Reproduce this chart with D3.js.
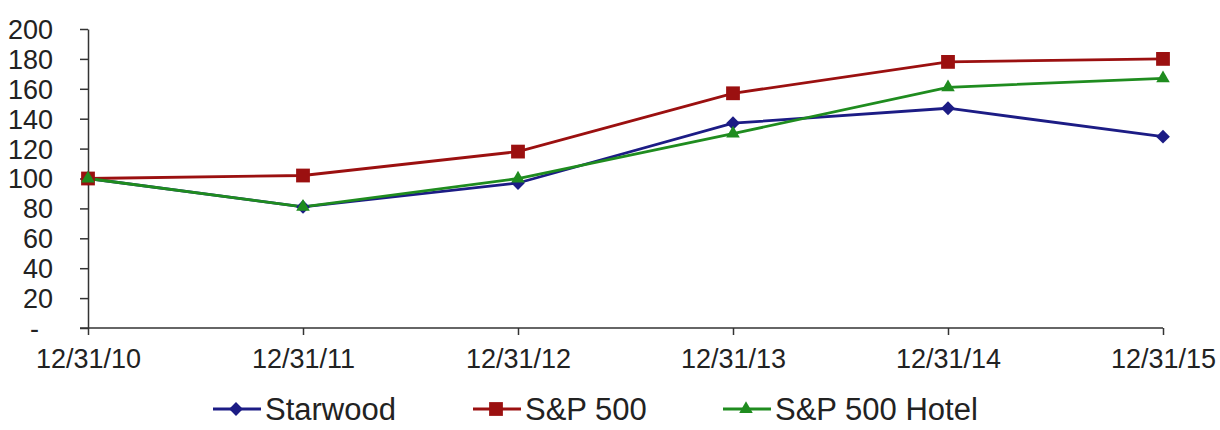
<!DOCTYPE html>
<html>
<head>
<script src="https://d3js.org/d3.v7.min.js"></script>
<style>
  body { margin: 0; background: #fff; }
  text { font-family: "Liberation Sans", Arial, sans-serif; fill: #222; }
</style>
</head>
<body>
<svg id="chart" width="1220" height="430"></svg>
<script>
// data
var dates = ["12/31/10", "12/31/11", "12/31/12", "12/31/13", "12/31/14", "12/31/15"];
var starwood = [100, 81, 97, 137, 147, 128];
var sp500 = [100, 102, 118, 157, 178, 180];
var spHotel = [100, 81, 100, 130, 161, 167];
var yTicks = [0, 20, 40, 60, 80, 100, 120, 140, 160, 180, 200];

var series = [
  {name: "Starwood", values: starwood, color: "#1c1c85", marker: "diamond"},
  {name: "S&P 500", values: sp500, color: "#9b1010", marker: "square"},
  {name: "S&P 500 Hotel", values: spHotel, color: "#1f8c1f", marker: "triangle"}
];

var svg = d3.select("#chart");

var x = d3.scalePoint().domain(dates).range([88, 1163]).padding(0);
var y = d3.scaleLinear().domain([0, 200]).range([328, 29]);

// y axis
var yAxis = svg.append("g")
  .attr("transform", "translate(88,0)")
  .call(d3.axisLeft(y).tickValues(yTicks).tickSize(8).tickPadding(27).tickSizeOuter(0)
    .tickFormat(function(d){ return d === 0 ? "-" : d; }));
yAxis.selectAll("text").style("font-size", "27px").attr("dy", "0.35em")
  .attr("dx", function(d){ return d === 0 ? -14 : 0; });
yAxis.selectAll("line, path").attr("stroke", "#333").attr("stroke-width", 1.5);

// x axis
var xAxis = svg.append("g")
  .attr("transform", "translate(0,328)")
  .call(d3.axisBottom(x).tickSize(7).tickPadding(14).tickSizeOuter(0));
xAxis.select(".domain").attr("d", "M80,0H1163");
xAxis.selectAll("text").style("font-size", "27px");
xAxis.selectAll("line, path").attr("stroke", "#333").attr("stroke-width", 1.5);

var line = d3.line()
  .x(function(d, i){ return x(dates[i]); })
  .y(function(d){ return y(d); });

var symbols = {
  diamond: d3.symbol().type(d3.symbolSquare).size(95),
  square: d3.symbol().type(d3.symbolSquare).size(190),
  triangle: d3.symbol().type(d3.symbolTriangle).size(80)
};
function markerTransform(s, px, py) {
  return "translate(" + px + "," + py + ")" + (s.marker === "diamond" ? " rotate(45)" : "");
}

series.forEach(function(s){
  svg.append("path")
    .attr("d", line(s.values))
    .attr("fill", "none")
    .attr("stroke", s.color)
    .attr("stroke-width", 2.8);
});

series.forEach(function(s){
  svg.selectAll(null)
    .data(s.values)
    .enter()
    .append("path")
      .attr("transform", function(d, i){ return markerTransform(s, x(dates[i]), y(d)); })
      .attr("d", symbols[s.marker]())
      .attr("fill", s.color);
});

// legend
var legendX = [213, 473, 723];
var legend = svg.append("g").attr("transform", "translate(0,409)");
series.forEach(function(s, i){
  var g = legend.append("g").attr("transform", "translate(" + legendX[i] + ",0)");
  g.append("line").attr("x1", 0).attr("x2", 48).attr("y1", 0).attr("y2", 0)
    .attr("stroke", s.color).attr("stroke-width", 2.8);
  g.append("path").attr("transform", markerTransform(s, 23, 0)).attr("d", symbols[s.marker]()).attr("fill", s.color);
  g.append("text").attr("x", 52).attr("dy", "0.35em").style("font-size", "31px").text(s.name);
});
</script>
</body>
</html>
